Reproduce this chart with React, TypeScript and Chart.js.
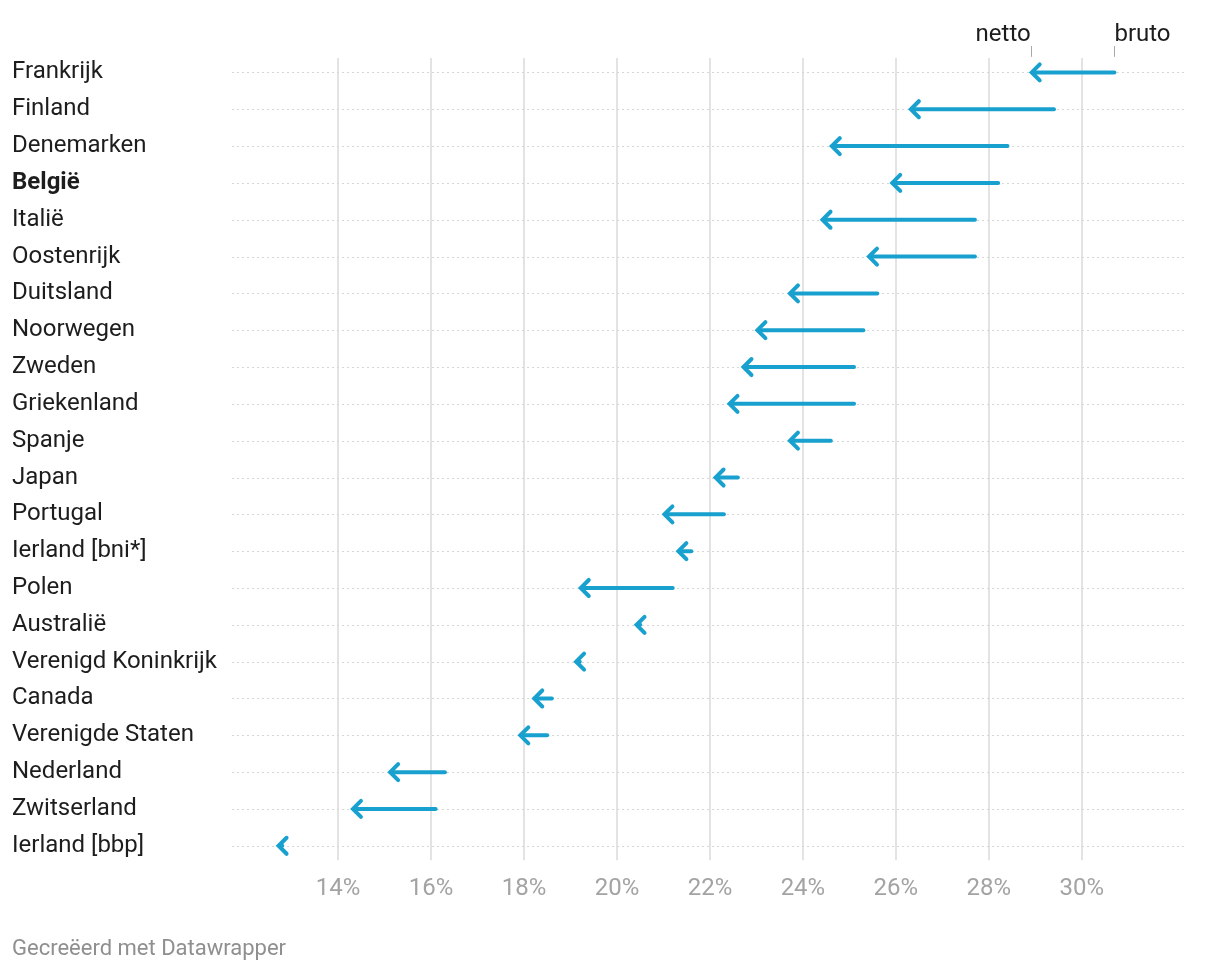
import React, { useEffect, useRef } from "react";
import { Chart, registerables } from "chart.js";

Chart.register(...registerables);

const countries = [
  "Frankrijk", "Finland", "Denemarken", "België", "Italië", "Oostenrijk",
  "Duitsland", "Noorwegen", "Zweden", "Griekenland", "Spanje", "Japan",
  "Portugal", "Ierland [bni*]", "Polen", "Australië", "Verenigd Koninkrijk",
  "Canada", "Verenigde Staten", "Nederland", "Zwitserland", "Ierland [bbp]",
];
const bruto = [30.7, 29.4, 28.4, 28.2, 27.7, 27.7, 25.6, 25.3, 25.1, 25.1, 24.6, 22.6, 22.3, 21.6, 21.2, 20.5, 19.2, 18.6, 18.5, 16.3, 16.1, 12.8];
const netto = [28.9, 26.3, 24.6, 25.9, 24.4, 25.4, 23.7, 23.0, 22.7, 22.4, 23.7, 22.1, 21.0, 21.3, 19.2, 20.4, 19.1, 18.2, 17.9, 15.1, 14.3, 12.7];
const tickValues = [14, 16, 18, 20, 22, 24, 26, 28, 30];
const boldCountry = "België";

const FONT = "Roboto, 'Noto Sans', sans-serif";
const ARROW = "#18a1ce";

const arrowPlugin = {
  id: "arrows",
  beforeDatasetsDraw(chart: any) {
    const { ctx, chartArea, scales } = chart;
    const x = scales.x;
    const y = scales.y;
    ctx.save();
    // vertical grid
    ctx.strokeStyle = "#e3e3e3";
    ctx.lineWidth = 2;
    tickValues.forEach((v) => {
      const px = Math.round(x.getPixelForValue(v));
      ctx.beginPath();
      ctx.moveTo(px, chartArea.top + 4);
      ctx.lineTo(px, chartArea.bottom - 4);
      ctx.stroke();
    });
    // dotted row lines
    ctx.strokeStyle = "#d6d6d6";
    ctx.lineWidth = 1;
    ctx.setLineDash([2, 3]);
    countries.forEach((_, i) => {
      const py = Math.round(y.getPixelForValue(i)) + 0.5;
      ctx.beginPath();
      ctx.moveTo(chartArea.left, py);
      ctx.lineTo(chartArea.right, py);
      ctx.stroke();
    });
    ctx.setLineDash([]);
    ctx.restore();
  },
  afterDatasetsDraw(chart: any) {
    const { ctx, scales } = chart;
    const x = scales.x;
    const y = scales.y;
    ctx.save();
    ctx.strokeStyle = ARROW;
    ctx.lineWidth = 4;
    ctx.lineCap = "round";
    ctx.lineJoin = "miter";
    countries.forEach((_, i) => {
      const py = y.getPixelForValue(i);
      const x0 = x.getPixelForValue(bruto[i]);
      const x1 = x.getPixelForValue(netto[i]);
      ctx.beginPath();
      ctx.moveTo(x0, py);
      ctx.lineTo(x1 + 2, py);
      ctx.stroke();
      ctx.beginPath();
      ctx.moveTo(x1 + 9, py - 8);
      ctx.lineTo(x1 + 1, py);
      ctx.lineTo(x1 + 9, py + 8);
      ctx.stroke();
    });
    // header labels
    const py0 = y.getPixelForValue(0);
    const xn = x.getPixelForValue(netto[0]);
    const xb = x.getPixelForValue(bruto[0]);
    ctx.strokeStyle = "#a8a8a8";
    ctx.lineWidth = 1;
    [xn, xb].forEach((px) => {
      const r = Math.round(px) + 0.5;
      ctx.beginPath();
      ctx.moveTo(r, py0 - 26);
      ctx.lineTo(r, py0 - 16);
      ctx.stroke();
    });
    ctx.fillStyle = "#1d1d1d";
    ctx.font = `24px ${FONT}`;
    ctx.textBaseline = "alphabetic";
    ctx.textAlign = "right";
    ctx.fillText("netto", xn, py0 - 31);
    ctx.textAlign = "left";
    ctx.fillText("bruto", xb, py0 - 31);
    ctx.restore();
  },
};

export default function App() {
  const ref = useRef<HTMLCanvasElement>(null);
  useEffect(() => {
    if (!ref.current) return;
    const chart = new Chart(ref.current, {
      type: "scatter",
      data: {
        labels: countries,
        datasets: [
          {
            data: netto.map((v, i) => ({ x: v, y: countries[i] })),
            pointRadius: 0,
            showLine: false,
          },
        ],
      },
      options: {
        animation: false,
        responsive: true,
        maintainAspectRatio: false,
        layout: { padding: { left: 12, right: 34, top: 54, bottom: 67 } },
        plugins: { legend: { display: false }, tooltip: { enabled: false } },
        scales: {
          x: {
            type: "linear",
            min: 11.72,
            max: 32.24,
            afterBuildTicks: (s: any) => {
              s.ticks = tickValues.map((v) => ({ value: v }));
            },
            grid: { display: false },
            border: { display: false },
            ticks: {
              padding: 2,
              color: "#a3a3a3",
              font: { family: FONT, size: 24 },
              callback: (v: any) => `${v}%`,
            },
          },
          y: {
            type: "category",
            labels: countries,
            offset: true,
            grid: { display: false },
            border: { display: false },
            afterFit: (s: any) => {
              s.width = 220;
            },
            ticks: {
              crossAlign: "far",
              padding: 0,
              color: "#1d1d1d",
              font: (c: any) => ({
                family: FONT,
                size: 24,
                weight: countries[c.index] === boldCountry ? "bold" : "normal",
              }),
            },
          },
        },
      },
      plugins: [arrowPlugin],
    });
    return () => chart.destroy();
  }, []);
  return (
    <div style={{ position: "absolute", left: 0, top: 0, width: 1220, height: 972, background: "#fff" }}>
      <canvas ref={ref} />
      <div
        style={{
          position: "absolute",
          left: 12,
          top: 934,
          fontFamily: FONT,
          fontSize: 22,
          color: "#8f8f8f",
          lineHeight: "28px",
        }}
      >
        Gecreëerd met Datawrapper
      </div>
    </div>
  );
}
